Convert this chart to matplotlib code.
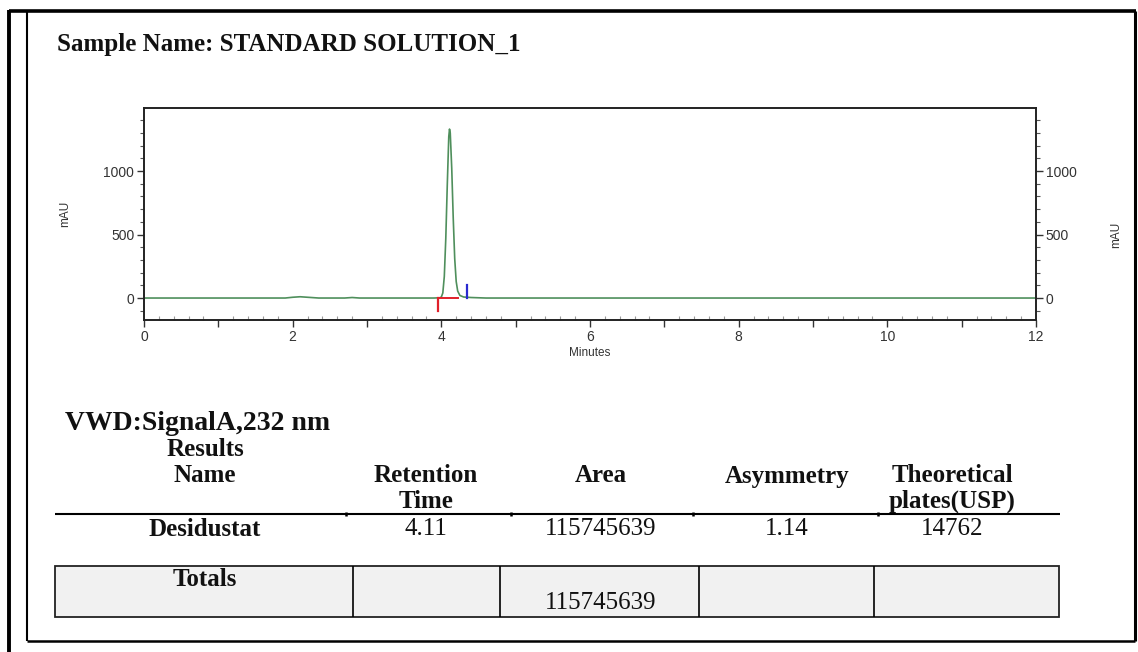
import matplotlib
matplotlib.use('Agg')
import matplotlib.pyplot as plt
from matplotlib.lines import Line2D
from matplotlib.patches import Rectangle
from matplotlib.ticker import MultipleLocator, FuncFormatter

# Cromatograma (minutos, mAU)
tiempo = [0.0, 1.90, 2.00, 2.10, 2.20, 2.35, 2.70, 2.80, 2.90, 3.90, 3.98, 4.00,
          4.02, 4.04, 4.06, 4.08, 4.10, 4.11, 4.12, 4.14, 4.16, 4.18, 4.20,
          4.22, 4.25, 4.30, 4.40, 4.60, 12.0]
senal = [0, 0, 6, 10, 6, 0, 0, 4, 0, 0, 2, 8,
         40, 170, 470, 890, 1270, 1330, 1300, 1020, 630, 310, 130,
         55, 20, 8, 4, 0, 0]

# marcas de integracion
inicio_pico = 3.95
fin_pico = 4.34

# tabla de resultados
encabezados = [['Name'], ['Retention', 'Time'], ['Area'], ['Asymmetry'],
               ['Theoretical', 'plates(USP)']]
fila = ['Desidustat', '4.11', '115745639', '1.14', '14762']
total_area = '115745639'

W, H = 1138, 652
fig = plt.figure(figsize=(W / 100, H / 100), dpi=100)


def px(x, y):
    return x / W, 1 - y / H


def linea(x0, y0, x1, y1, lw=1.2, color='black'):
    (a, b), (c, d) = px(x0, y0), px(x1, y1)
    fig.add_artist(Line2D([a, c], [b, d], lw=lw, color=color,
                          transform=fig.transFigure, solid_capstyle='butt'))


def texto(x, y, s, ha='center', bold=True, size=18):
    fx, fy = px(x, y)
    fig.text(fx, fy, s, ha=ha, va='center', family='Liberation Serif',
             fontweight='bold' if bold else 'normal', fontsize=size, color='#111111')


# marcos de la pagina
linea(9, 11, 1136, 11, lw=2.6)
linea(9, 10, 9, 652, lw=2.8)
linea(27, 11, 27, 641, lw=1.5)
linea(27, 641, 1135, 641, lw=1.8)
linea(1135, 11, 1135, 641, lw=2.2)

texto(57, 45, 'Sample Name: STANDARD SOLUTION_1', ha='left', size=18)

# grafico
ax = fig.add_axes([144 / W, 1 - 320 / H, (1036 - 144) / W, (320 - 108) / H])
ax.plot(tiempo, senal, color='#4f8f5c', lw=1.2)
ax.plot([inicio_pico, inicio_pico], [-100, 0], color='#e0202a', lw=1.6)
ax.plot([inicio_pico, 4.22], [0, 0], color='#e0202a', lw=1.4)
ax.plot([fin_pico, fin_pico], [0, 105], color='#2a2ad0', lw=1.6)

ax.set_xlim(0, 12)
ax.set_ylim(-173, 1496)
ax.xaxis.set_major_locator(MultipleLocator(1))
ax.xaxis.set_major_formatter(FuncFormatter(lambda v, p: '%d' % v if int(round(v)) % 2 == 0 else ''))
ax.xaxis.set_minor_locator(MultipleLocator(0.2))
ax.yaxis.set_major_locator(MultipleLocator(500))
ax.yaxis.set_minor_locator(MultipleLocator(100))
ax.tick_params(axis='x', which='major', direction='out', length=5, width=1, color='#333333',
               labelsize=10, labelcolor='#333333', pad=2)
ax.tick_params(axis='x', which='minor', direction='in', length=3, width=0.8, color='#999999')
ax.tick_params(axis='y', which='major', direction='out', length=5, width=1, color='#333333',
               labelsize=10, labelcolor='#333333', left=True, right=True,
               labelleft=True, labelright=True, pad=2)
ax.tick_params(axis='y', which='minor', direction='out', length=3, width=0.8, color='#555555',
               left=True, right=True)
for lab in ax.get_xticklabels() + ax.get_yticklabels():
    lab.set_family('Liberation Sans')
for s in ax.spines.values():
    s.set_linewidth(1.4)
    s.set_color('#222222')

ax.set_xlabel('Minutes', fontsize=8.5, family='Liberation Sans', color='#333333', labelpad=2)
ax.set_ylabel('mAU', fontsize=8.5, family='Liberation Sans', color='#333333', labelpad=23)
ax.text(1.09, 0.4, 'mAU', rotation=90, fontsize=8.5, family='Liberation Sans', color='#333333',
        transform=ax.transAxes, ha='center', va='center')

# tabla de resultados
texto(65, 424, 'VWD:SignalA,232 nm', ha='left', size=20)
texto(205, 450, 'Results')
col_x = [205, 426, 601, 787, 952]
for x, lineas in zip(col_x, encabezados):
    for k, s in enumerate(lineas):
        texto(x, 476 + 25 * k, s)

linea(55, 514, 1060, 514, lw=1.5)
for x in [346, 511, 693, 878]:
    linea(x, 512, x, 516, lw=1.8)

for k, (x, s) in enumerate(zip(col_x, fila)):
    texto(x, 529, s, bold=(k == 0))

bx0, by0 = px(55, 617)
bx1, by1 = px(1059, 566)
fig.add_artist(Rectangle((bx0, by0), bx1 - bx0, by1 - by0, transform=fig.transFigure,
                         facecolor='#f1f1f1', edgecolor='#222222', lw=1.3))
for x in [353, 500, 699, 874]:
    linea(x, 566, x, 617, lw=1.2)
texto(205, 580, 'Totals')
texto(601, 603, total_area, bold=False)

fig.savefig('out.png', dpi=100)
